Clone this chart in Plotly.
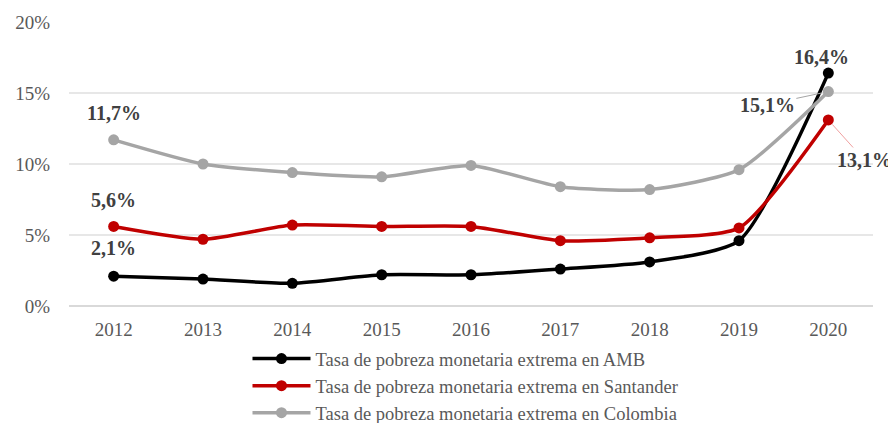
import plotly.graph_objects as go

years = ["2012", "2013", "2014", "2015", "2016", "2017", "2018", "2019", "2020"]
amb = [2.1, 1.9, 1.6, 2.2, 2.2, 2.6, 3.1, 4.6, 16.4]
santander = [5.6, 4.7, 5.7, 5.6, 5.6, 4.6, 4.8, 5.5, 13.1]
colombia = [11.7, 10.0, 9.4, 9.1, 9.9, 8.4, 8.2, 9.6, 15.1]
names = [
    "Tasa de pobreza monetaria extrema en AMB",
    "Tasa de pobreza monetaria extrema en Santander",
    "Tasa de pobreza monetaria extrema en Colombia",
]
y_ticks = [0, 5, 10, 15, 20]
y_tick_labels = ["0%", "5%", "10%", "15%", "20%"]

FONT = "Liberation Serif, Times New Roman, serif"

fig = go.Figure()
series = [(amb, "#000000", names[0]), (santander, "#C00000", names[1]), (colombia, "#A5A5A5", names[2])]
for i, (vals, col, nm) in enumerate(series):
    fig.add_trace(go.Scatter(
        x=years, y=vals, name=nm, mode="lines+markers",
        line=dict(color=col, width=3.5, shape="spline", smoothing=0.6),
        marker=dict(color=col, size=11),
        legendgroup=f"g{i}",
    ))

def fmt(v):
    return "<b>" + f"{v:.1f}%".replace(".", ",") + "</b>"

lab_font = dict(family=FONT, size=20, color="#404040")

fig.update_layout(
    width=888, height=415,
    margin=dict(l=61, r=23, t=14, b=117, autoexpand=False),
    plot_bgcolor="white", paper_bgcolor="white",
    font=dict(family=FONT, color="#595959"),
    showlegend=True,
    legend=dict(
        orientation="v", x=0.222, xanchor="left", y=-0.12, yanchor="top",
        font=dict(family=FONT, size=18.5, color="#595959"),
        tracegroupgap=0, itemwidth=58, bgcolor="rgba(0,0,0,0)",
    ),
    xaxis=dict(
        type="category", range=[-0.5, 8.5], showgrid=False, zeroline=False,
        showline=False, tickfont=dict(family=FONT, size=19, color="#595959"),
        ticks="", ticklabelstandoff=10,
    ),
    yaxis=dict(
        range=[0, 20], tickvals=y_ticks, ticktext=y_tick_labels,
        showgrid=True, gridcolor="#E7E7E7", gridwidth=1.5, zeroline=True,
        zerolinecolor="#D9D9D9", zerolinewidth=2, showline=False,
        tickfont=dict(family=FONT, size=19, color="#595959"),
        ticks="", ticklabelstandoff=18,
    ),
)

fig.add_annotation(x=0, y=colombia[0], text=fmt(colombia[0]), showarrow=False, yshift=27, font=lab_font)
fig.add_annotation(x=0, y=santander[0], text=fmt(santander[0]), showarrow=False, yshift=26, font=lab_font)
fig.add_annotation(x=0, y=amb[0], text=fmt(amb[0]), showarrow=False, yshift=28, font=lab_font)
fig.add_annotation(x=8, y=amb[-1], text=fmt(amb[-1]), showarrow=False, yshift=16, xshift=-7, font=lab_font)
fig.add_annotation(x=8, y=colombia[-1], text=fmt(colombia[-1]), showarrow=True, arrowhead=0,
                   arrowwidth=1, arrowcolor="#A5A5A5", ax=-61, ay=13, standoff=7, font=lab_font)
fig.add_annotation(x=8, y=santander[-1], text=fmt(santander[-1]), showarrow=True, arrowhead=0,
                   arrowwidth=1, arrowcolor="#F0A0A0", ax=36, ay=40, standoff=6, font=lab_font)

fig.write_html("out.html")
